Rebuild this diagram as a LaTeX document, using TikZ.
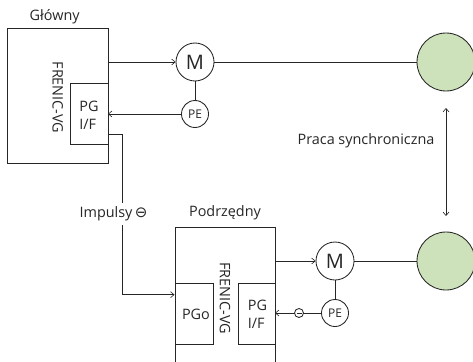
\documentclass[tikz,border=0pt]{standalone}
\usepackage{fontspec}
\setmainfont{Open Sans}
\newfontfamily\symfont{DejaVu Sans}
\usetikzlibrary{arrows.meta}
\definecolor{wheel}{HTML}{CDE2BB}
\definecolor{ink}{HTML}{262626}
\tikzset{
  line/.style={draw=ink,line width=0.85pt},
  conn/.style={line,-{Straight Barb[length=3.5pt,width=6pt,line width=0.6pt]}},
  sync/.style={line,{Straight Barb[length=3.5pt,width=6pt,line width=0.6pt]}-{Straight Barb[length=3.5pt,width=6pt,line width=0.6pt]}},
  blockbox/.style={line,rectangle,inner sep=0pt,anchor=north west},
  motor/.style={line,circle,inner sep=0pt,minimum size=38pt,font=\fontsize{20}{20}\selectfont,text=ink},
  encoder/.style={line,circle,inner sep=0pt,minimum size=27pt,font=\fontsize{12}{12}\selectfont,text=ink},
  wheelc/.style={line,circle,fill=wheel,inner sep=0pt,minimum size=58pt},
  lbl/.style={font=\fontsize{14.4}{18}\selectfont,text=ink,inner sep=0pt},
  minus/.style={line,circle,fill=white,inner sep=0pt,minimum size=9pt},
}
\begin{document}
\begin{tikzpicture}[x=1pt,y=-1pt]
\useasboundingbox (0,0) rectangle (473,361);
\clip (0,0) rectangle (473,361);
% main drive
\node[blockbox,minimum width=101.5pt,minimum height=135pt] (mbox) at (6.5,28) {};
\node[blockbox,minimum width=38pt,minimum height=61pt] (mpg) at (70,83) {};
\node[lbl,align=left] (mpgt) at (89,115) {PG\\I/F};
\node[lbl,rotate=-90] (mfv) at (57.7,97.5) {FRENIC-VG};
\node[lbl] (mt) at (54.7,17) {Główny};
\node[motor] (m1) at (195,62) {M};
\node[encoder] (pe1) at (195,114) {PE};
\node[wheelc] (w1) at (446,62) {};
\coordinate (mout) at (108,62);
\coordinate (min) at (108,114);
\coordinate (mpulse) at (108,134.5);
\draw[conn] (mout) -- (m1.west);
\draw[line] (m1.east) -- (w1.west);
\draw[line] (m1.south) -- (pe1.north);
\draw[conn] (pe1.west) -- (min);
% slave drive
\node[blockbox,minimum width=100.5pt,minimum height=150pt] (sbox) at (174.5,227) {};
\node[blockbox,minimum width=38.5pt,minimum height=61pt] (pgo) at (174.5,283) {};
\node[lbl] (pgot) at (196,314) {PGo};
\node[blockbox,minimum width=37.5pt,minimum height=61pt] (spg) at (237.5,283) {};
\node[lbl,align=left] (spgt) at (257.5,314) {PG\\I/F};
\node[lbl,rotate=-90] (sfv) at (225,298) {FRENIC-VG};
\node[lbl] (st) at (225,213) {Podrzędny};
\node[motor] (m2) at (335,261) {M};
\node[encoder] (pe2) at (335,313) {PE};
\node[wheelc] (w2) at (446,261) {};
\coordinate (sout) at (275,261);
\coordinate (sin) at (275,313);
\coordinate (pgoin) at (174.5,294.7);
\draw[conn] (sout) -- (m2.west);
\draw[line] (m2.east) -- (w2.west);
\draw[line] (m2.south) -- (pe2.north);
\draw[conn] (pe2.west) -- (sin);
\node[minus] (sm) at (299,313) {};
\draw[line,line width=0.7pt] ([xshift=-2.5pt]sm.center) -- ([xshift=2.5pt]sm.center);
% pulse line
\coordinate (c1) at (122.7,134.5);
\coordinate (c2) at (122.7,294.7);
\draw[conn] (mpulse) -- (c1) -- (c2) -- (pgoin);
\node[lbl,fill=white,inner xsep=1pt,inner ysep=0pt,minimum height=22pt] (imp) at (113.5,214) {Impulsy\,{\symfont\fontsize{15}{15}\selectfont ⊖}};
% synchronous
\node[lbl] (pr) at (366,140.5) {Praca synchroniczna};
\coordinate (s1) at (446,108);
\coordinate (s2) at (446,216);
\draw[sync] (s1) -- (s2);
\end{tikzpicture}
\end{document}
